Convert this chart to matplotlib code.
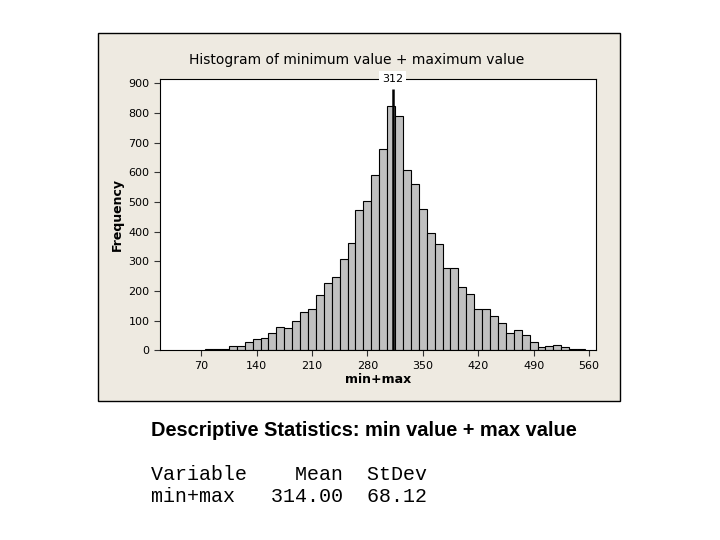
import matplotlib.pyplot as plt
from matplotlib.patches import Rectangle

# bin centres (width 10) and counts
centers = [80, 90, 100, 110, 120, 130, 140, 150, 160, 170, 180, 190, 200,
           210, 220, 230, 240, 250, 260, 270, 280, 290, 300, 310, 320, 330,
           340, 350, 360, 370, 380, 390, 400, 410, 420, 430, 440, 450, 460,
           470, 480, 490, 500, 510, 520, 530, 540, 550]
counts = [3, 3, 3, 14, 14, 27, 38, 41, 58, 79, 74, 98, 128,
          139, 185, 226, 246, 306, 360, 471, 502, 589, 678, 822, 788, 609,
          559, 475, 394, 357, 276, 276, 212, 189, 139, 139, 116, 91, 57,
          67, 51, 27, 10, 15, 18, 11, 3, 3]
xticks = [70, 140, 210, 280, 350, 420, 490, 560]
yticks = [0, 100, 200, 300, 400, 500, 600, 700, 800, 900]
ref_value = 312

fig = plt.figure(figsize=(7.2, 5.4), dpi=100)

# beige Minitab graph panel, kept behind the axes
panel = Rectangle((98 / 720, 1 - 401 / 540), 522 / 720, 368 / 540,
                  transform=fig.transFigure, facecolor='#eeeae1',
                  edgecolor='black', linewidth=1, zorder=-10)
fig.patches.append(panel)

ax = fig.add_axes([160 / 720, 1 - 350.3 / 540, 435.7 / 720, 271.6 / 540])
ax.set_facecolor('white')
ax.bar(centers, counts, width=10, color='#c0c0c0', edgecolor='black', linewidth=0.8)
ax.set_xlim(18, 568.5)
ax.set_ylim(0, 915)
ax.set_xticks(xticks)
ax.set_yticks(yticks)
ax.tick_params(labelsize=8, length=4, direction='out', color='#333333')
for s in ax.spines.values():
    s.set_linewidth(0.8)

ax.vlines(ref_value, 0, 880, color='black', linewidth=1.8)
ax.text(ref_value, 915, str(ref_value), ha='center', va='center', fontsize=8,
        bbox=dict(facecolor='white', edgecolor='none', pad=2), clip_on=False)

ax.set_xlabel('min+max', fontsize=9, fontweight='bold', labelpad=2)
ax.set_ylabel('Frequency', fontsize=9, fontweight='bold', labelpad=3)
fig.text(357 / 720, 1 - 60 / 540, 'Histogram of minimum value + maximum value',
         ha='center', va='center', fontsize=10)

fig.text(151 / 720, 1 - 431 / 540, 'Descriptive Statistics: min value + max value',
         ha='left', va='center', fontsize=14.4, fontweight='bold',
         family='Liberation Sans')
fig.text(151 / 720, 1 - 475 / 540, 'Variable    Mean  StDev',
         ha='left', va='center', fontsize=14.4, family='Liberation Mono')
fig.text(151 / 720, 1 - 497 / 540, 'min+max   314.00  68.12',
         ha='left', va='center', fontsize=14.4, family='Liberation Mono')

plt.savefig('out.png', dpi=100)
